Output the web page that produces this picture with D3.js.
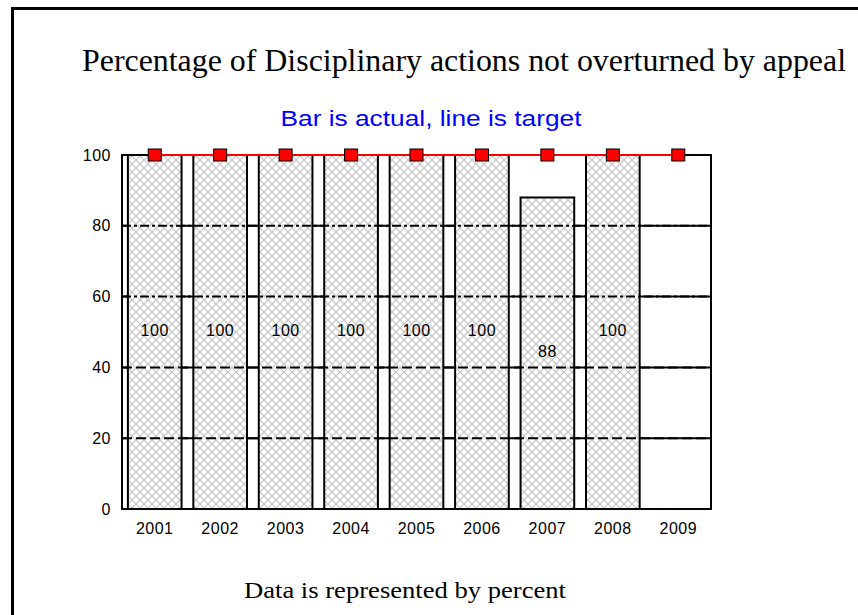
<!DOCTYPE html>
<html>
<head>
<meta charset="utf-8">
<script src="https://cdn.jsdelivr.net/npm/d3@7"></script>
<style>
body { margin: 0; background: #fff; }
</style>
</head>
<body>
<div id="chart"></div>
<script>
var years = ['2001', '2002', '2003', '2004', '2005', '2006', '2007', '2008', '2009'];
var actual = [100, 100, 100, 100, 100, 100, 88, 100, null];
var target = [100, 100, 100, 100, 100, 100, 100, 100, 100];
var yTicks = [0, 20, 40, 60, 80, 100];

const width = 858;
const height = 615;

var svg = d3.select('#chart')
    .append('svg')
    .attr('width', width)
    .attr('height', height);

// hatch for the bars
var pat = svg.append('defs').append('pattern')
    .attr('id', 'hatch')
    .attr('patternUnits', 'userSpaceOnUse')
    .attr('width', 8)
    .attr('height', 8);
pat.append('rect').attr('width', 8).attr('height', 8).attr('fill', '#fff');
pat.append('path')
    .attr('d', 'M0,0L8,8M8,0L0,8')
    .attr('stroke', '#c4c4c4')
    .attr('stroke-width', 1.2);

// outer frame
svg.append('rect')
    .attr('x', 12.5).attr('y', 8.5)
    .attr('width', 900).attr('height', 700)
    .attr('fill', 'none')
    .attr('stroke', '#000')
    .attr('stroke-width', 3);

svg.append('text')
    .attr('x', 464).attr('y', 71)
    .attr('text-anchor', 'middle')
    .attr('textLength', 764)
    .attr('lengthAdjust', 'spacingAndGlyphs')
    .style('font-family', '"Liberation Serif", "Times New Roman", serif')
    .style('font-size', '32px')
    .text('Percentage of Disciplinary actions not overturned by appeal');

svg.append('text')
    .attr('x', 431).attr('y', 126)
    .attr('text-anchor', 'middle')
    .attr('textLength', 301)
    .attr('lengthAdjust', 'spacingAndGlyphs')
    .attr('fill', '#0000ff')
    .style('font-family', '"Liberation Sans", Arial, sans-serif')
    .style('font-size', '22px')
    .text('Bar is actual, line is target');

svg.append('text')
    .attr('x', 405).attr('y', 598)
    .attr('text-anchor', 'middle')
    .attr('textLength', 322)
    .attr('lengthAdjust', 'spacingAndGlyphs')
    .style('font-family', '"Liberation Serif", "Times New Roman", serif')
    .style('font-size', '24px')
    .text('Data is represented by percent');

var xScale = d3.scaleBand().domain(years).range([122, 711])
    .paddingInner(0.18).paddingOuter(0.09);
var yScale = d3.scaleLinear().domain([0, 100]).range([509, 155]);

var grid = yTicks.filter(d => d > 0 && d < 100);

// solid grid under the bars
svg.append('g').selectAll('line')
    .data(grid)
    .join('line')
    .attr('x1', 122).attr('x2', 711)
    .attr('y1', d => yScale(d)).attr('y2', d => yScale(d))
    .attr('stroke', '#000')
    .attr('stroke-width', 2);

var barData = years.map((d, i) => ({year: d, value: actual[i]})).filter(d => d.value != null);

svg.append('g').selectAll('rect')
    .data(barData)
    .join('rect')
    .attr('x', d => xScale(d.year))
    .attr('y', d => yScale(d.value))
    .attr('width', xScale.bandwidth())
    .attr('height', d => yScale(0) - yScale(d.value))
    .attr('fill', 'url(#hatch)')
    .attr('stroke', '#000')
    .attr('stroke-width', 2);

// grid shows broken over the bars
svg.append('g').selectAll('line')
    .data(grid)
    .join('line')
    .attr('x1', 122).attr('x2', 711)
    .attr('y1', d => yScale(d)).attr('y2', d => yScale(d))
    .attr('stroke', '#000')
    .attr('stroke-width', 2)
    .attr('stroke-dasharray', d => d >= 60 ? '9,3,3,3' : '10,4');

// plot frame
svg.append('rect')
    .attr('x', 122).attr('y', 155)
    .attr('width', 711 - 122).attr('height', 509 - 155)
    .attr('fill', 'none')
    .attr('stroke', '#000')
    .attr('stroke-width', 2);

var tickFont = '"Liberation Sans", Arial, sans-serif';

var yAxis = svg.append('g')
    .attr('transform', 'translate(122,0)')
    .call(d3.axisLeft(yScale).tickValues(yTicks).tickSize(0).tickPadding(11));
yAxis.select('.domain').remove();
yAxis.selectAll('text')
    .style('font-family', tickFont)
    .style('font-size', '16px')
    .style('letter-spacing', '0.5px')
    .attr('fill', '#000');

var xAxis = svg.append('g')
    .attr('transform', 'translate(0,509)')
    .call(d3.axisBottom(xScale).tickSize(0).tickPadding(14));
xAxis.select('.domain').remove();
xAxis.selectAll('text')
    .style('font-family', tickFont)
    .style('font-size', '16px')
    .style('letter-spacing', '0.5px')
    .attr('fill', '#000');

// value labels in the middle of each bar
svg.append('g').selectAll('text')
    .data(barData)
    .join('text')
    .attr('x', d => xScale(d.year) + xScale.bandwidth() / 2)
    .attr('y', d => (yScale(d.value) + yScale(0)) / 2 - 2)
    .attr('dy', '0.35em')
    .attr('text-anchor', 'middle')
    .style('font-family', tickFont)
    .style('font-size', '16px')
    .style('letter-spacing', '0.5px')
    .text(d => d.value);

// target line
var tData = years.map((d, i) => ({year: d, value: target[i]}));
var line = d3.line()
    .x(d => xScale(d.year) + xScale.bandwidth() / 2)
    .y(d => yScale(d.value));
svg.append('path')
    .datum(tData)
    .attr('d', line)
    .attr('fill', 'none')
    .attr('stroke', '#ff0000')
    .attr('stroke-width', 2);

svg.append('g').selectAll('rect')
    .data(tData)
    .join('rect')
    .attr('x', d => xScale(d.year) + xScale.bandwidth() / 2 - 6.5)
    .attr('y', d => yScale(d.value) - 6)
    .attr('width', 13)
    .attr('height', 12)
    .attr('fill', '#ff0000')
    .attr('stroke', '#000')
    .attr('stroke-width', 1);
</script>
</body>
</html>
